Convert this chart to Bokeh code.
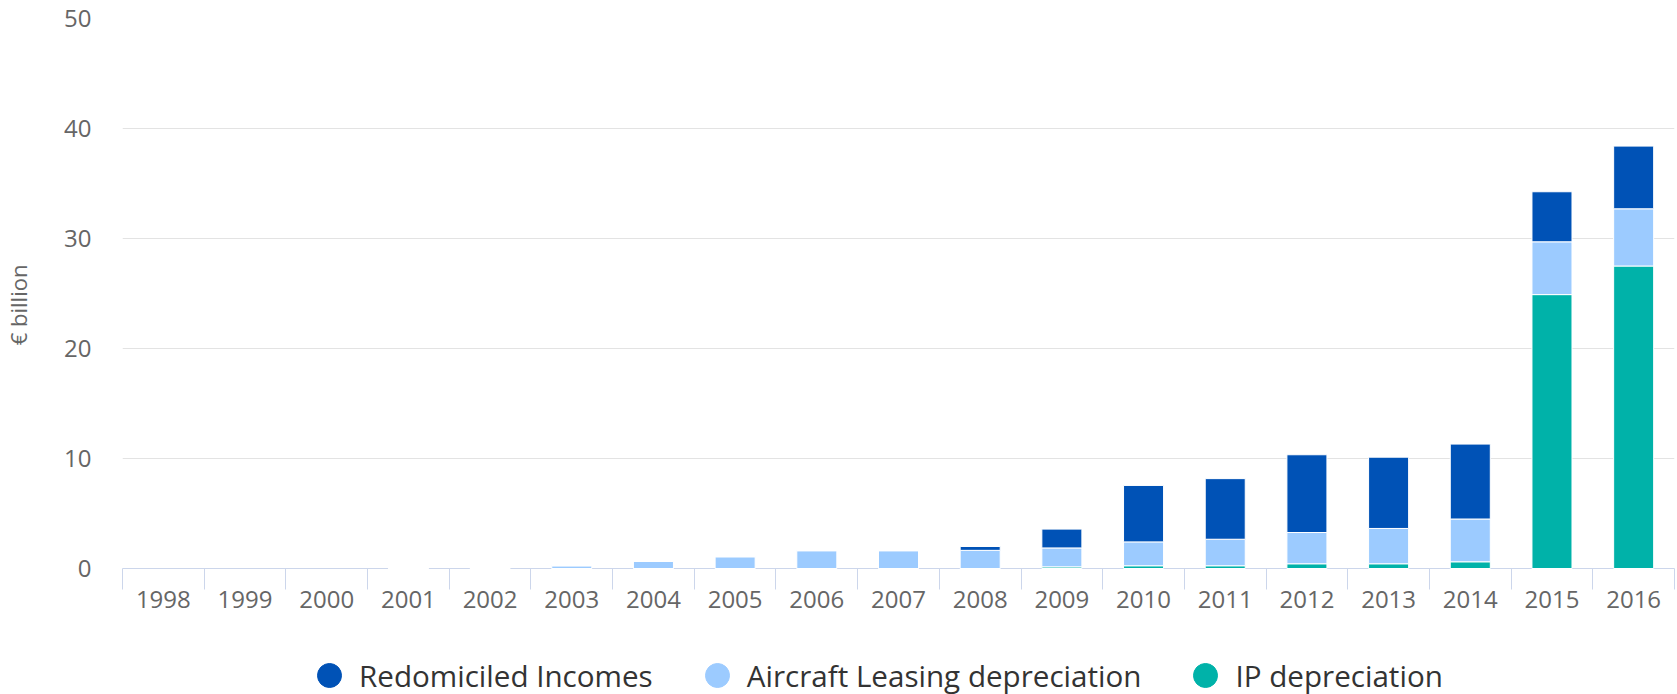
from bokeh.plotting import figure
from bokeh.layouts import column
from bokeh.models import (Range1d, LinearAxis, FixedTicker, Legend, LegendItem,
                          ColumnDataSource)
from bokeh.embed import file_html
from bokeh.resources import INLINE

NaN = float("nan")

years = ["1998", "1999", "2000", "2001", "2002", "2003", "2004", "2005", "2006",
         "2007", "2008", "2009", "2010", "2011", "2012", "2013", "2014", "2015", "2016"]
ip_depreciation = [NaN, NaN, NaN, 0, 0, 0, 0, 0, 0, 0, 0, 0.15, 0.25, 0.25, 0.43,
                   0.43, 0.61, 24.9, 27.5]
aircraft_leasing = [NaN, NaN, NaN, 0.03, 0.03, 0.25, 0.64, 1.07, 1.62, 1.62, 1.65,
                    1.72, 2.17, 2.41, 2.84, 3.21, 3.89, 4.8, 5.2]
redomiciled = [NaN, NaN, NaN, 0, 0, 0, 0, 0, 0, 0, 0.35, 1.71, 5.13, 5.51, 7.07,
               6.48, 6.81, 4.55, 5.7]
y_ticks = [0, 10, 20, 30, 40, 50]
series_names = ["IP depreciation", "Aircraft Leasing depreciation", "Redomiciled Incomes"]
colors = ["#00b2a9", "#9ccbff", "#0052b6"]

FONT = "Open Sans"
NBSP = "\u00a0"

source = ColumnDataSource(dict(years=years, ip=ip_depreciation, air=aircraft_leasing,
                               redo=redomiciled))

p = figure(width=1677, height=634, x_range=years, y_range=Range1d(0, 50),
           output_backend="svg", toolbar_location=None, x_axis_location=None,
           min_border_left=121, min_border_right=3, min_border_top=18,
           min_border_bottom=66)
p.outline_line_color = None
p.background_fill_color = "white"
p.border_fill_color = "white"

renderers = p.vbar_stack(["ip", "air", "redo"], x="years", width=0.49, source=source,
                         color=colors, line_color="white", line_width=1)
for r in renderers:
    r.level = "overlay"

# y axis
p.yaxis.ticker = FixedTicker(ticks=y_ticks)
p.yaxis.axis_line_color = None
p.yaxis.major_tick_line_color = None
p.yaxis.minor_tick_line_color = None
p.yaxis.major_tick_out = 0
p.yaxis.major_tick_in = 0
p.yaxis.major_label_standoff = 31
p.yaxis.major_label_text_font = FONT
p.yaxis.major_label_text_font_size = "24px"
p.yaxis.major_label_text_color = "#666666"
p.yaxis.axis_label = "€ billion" + NBSP * 4
p.yaxis.axis_label_text_font = FONT
p.yaxis.axis_label_text_font_size = "22px"
p.yaxis.axis_label_text_font_style = "normal"
p.yaxis.axis_label_text_color = "#666666"
p.yaxis.axis_label_standoff = 28

p.ygrid.ticker = FixedTicker(ticks=y_ticks)
p.ygrid.grid_line_color = "#e3e3e3"
p.ygrid.grid_line_width = 1
p.xgrid.grid_line_color = None

# x axis: labels at category centres, ticks at category boundaries
centers = [i + 0.5 for i in range(len(years))]
bounds = list(range(len(years) + 1))
xaxis = LinearAxis(ticker=FixedTicker(ticks=centers, minor_ticks=bounds))
xaxis.major_label_overrides = {c: y for c, y in zip(centers, years)}
xaxis.axis_line_color = "#ccd6eb"
xaxis.axis_line_width = 1
xaxis.major_tick_line_color = None
xaxis.major_tick_out = 0
xaxis.major_tick_in = 0
xaxis.minor_tick_line_color = "#ccd6eb"
xaxis.minor_tick_out = 21
xaxis.minor_tick_in = 0
xaxis.major_label_standoff = 1
xaxis.major_label_text_font = FONT
xaxis.major_label_text_font_size = "24px"
xaxis.major_label_text_color = "#666666"
p.add_layout(xaxis, "below")

# legend strip below the chart (its frame is aligned with the chart's frame)
lg = figure(width=1677, height=60, x_range=Range1d(0, 1), y_range=Range1d(0, 1),
            output_backend="svg", toolbar_location=None, x_axis_location=None,
            y_axis_location=None, min_border=0)
lg.outline_line_color = None
lg.grid.visible = False
legend_src = ColumnDataSource(dict(x=[-5], y=[-5]))
items = []
for name, col in zip(reversed(series_names), reversed(colors)):
    g = lg.scatter(x="x", y="y", source=legend_src, marker="circle", size=10,
                   fill_color=col, line_color=col)
    items.append(LegendItem(label=name, renderers=[g]))

legend = Legend(items=items, location=(177, -11), orientation="horizontal",
                glyph_width=60, glyph_height=60, label_standoff=0, spacing=34,
                padding=0, margin=0, border_line_color=None,
                background_fill_alpha=0, label_text_font=FONT,
                label_text_font_size="29.6px", label_text_color="#333333")
lg.add_layout(legend, "center")

layout = column(p, lg, spacing=0)
open("out.html", "w").write(file_html(layout, INLINE))
